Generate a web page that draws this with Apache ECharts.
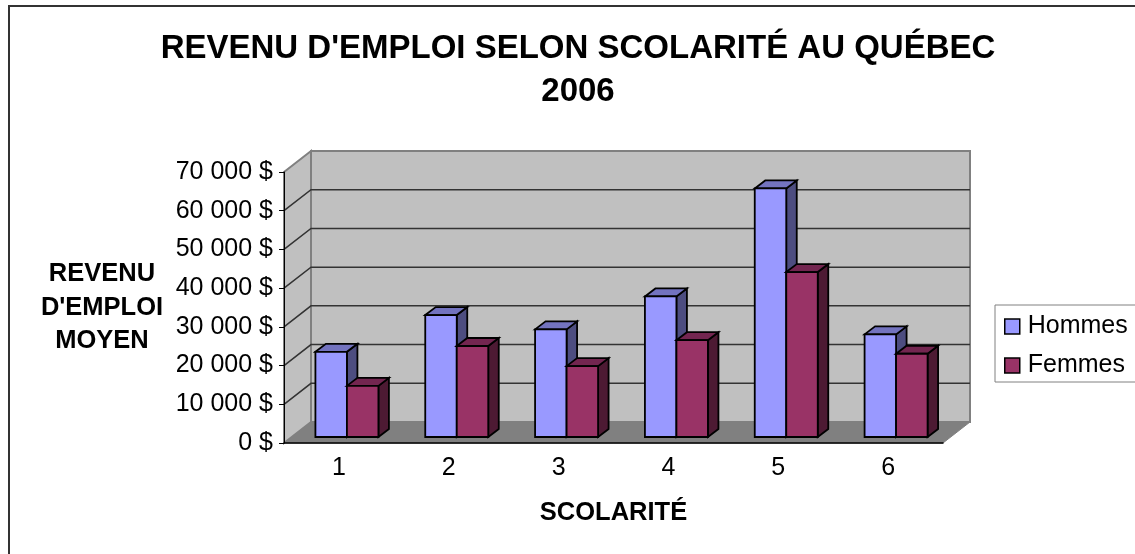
<!DOCTYPE html>
<html>
<head>
<meta charset="utf-8">
<script src="https://cdn.jsdelivr.net/npm/echarts@6/dist/echarts.min.js"></script>
<style>
  html, body {margin: 0; padding: 0; background: #fff;}
  #chart {width: 1135px; height: 554px;}
</style>
</head>
<body>
<div id="chart"></div>
<script>
const categories = ['1', '2', '3', '4', '5', '6']
const hommes = [22000, 31500, 27800, 36300, 64200, 26500]
const femmes = [13200, 23500, 18300, 25000, 42600, 21500]
const yTicks = [0, 10000, 20000, 30000, 40000, 50000, 60000, 70000]
const yTickLabels = ['0 $', '10 000 $', '20 000 $', '30 000 $', '40 000 $', '50 000 $', '60 000 $', '70 000 $']

const FONT = '"Liberation Sans", Arial, sans-serif'
// depth of the chart box and of the bars, in pixels
const DEPTH_X = 27
const DEPTH_Y = 21
const BAR_DEPTH_X = 10.5
const BAR_DEPTH_Y = 8
const BAR_OFFSET_X = 8
const BAR_OFFSET_Y = 6
const BAR_W = 31.5

const poly = (points, fill, stroke, lineWidth) => ({
  type: 'polygon',
  shape: {points},
  style: {fill, stroke, lineWidth},
})

// walls, floor and grid lines of the 3D box
function renderWalls(params, api) {
  const {x, y, width, height} = params.coordSys
  const r = x + width
  const b = y + height
  const children = [
    poly([[x, b], [x + DEPTH_X, b - DEPTH_Y], [r + DEPTH_X, b - DEPTH_Y], [r, b]], '#808080', '#808080', 1),
    poly([[x, y], [x + DEPTH_X, y - DEPTH_Y], [x + DEPTH_X, b - DEPTH_Y], [x, b]], '#c0c0c0', '#808080', 2),
    poly([[x + DEPTH_X, y - DEPTH_Y], [r + DEPTH_X, y - DEPTH_Y], [r + DEPTH_X, b - DEPTH_Y], [x + DEPTH_X, b - DEPTH_Y]], '#c0c0c0', '#808080', 2),
  ]
  yTicks.slice(1, -1).forEach(t => {
    const py = api.coord([0, t])[1]
    children.push({
      type: 'polyline',
      shape: {points: [[x, py], [x + DEPTH_X, py - DEPTH_Y], [r + DEPTH_X, py - DEPTH_Y]]},
      style: {fill: null, stroke: '#333', lineWidth: 1.5},
    })
  })
  return {type: 'group', children}
}

const makeBars = (shift, colors) => (params, api) => {
  const idx = api.value(0)
  const base = api.coord([idx, 0])
  const top = api.coord([idx, api.value(1)])
  const x0 = base[0] + BAR_OFFSET_X + shift
  const x1 = x0 + BAR_W
  const y0 = base[1] - BAR_OFFSET_Y
  const y1 = top[1] - BAR_OFFSET_Y
  const dx = BAR_DEPTH_X
  const dy = BAR_DEPTH_Y
  return {
    type: 'group',
    children: [
      poly([[x1, y0], [x1 + dx, y0 - dy], [x1 + dx, y1 - dy], [x1, y1]], colors.side, '#000', 1.8),
      poly([[x0, y1], [x0 + dx, y1 - dy], [x1 + dx, y1 - dy], [x1, y1]], colors.top, '#000', 1.8),
      poly([[x0, y0], [x0, y1], [x1, y1], [x1, y0]], colors.front, '#000', 1.8),
    ],
  }
}

const colorsH = {front: '#9999ff', top: '#7373bf', side: '#4d4d80'}
const colorsF = {front: '#993366', top: '#732650', side: '#4d1a33'}

const chart = echarts.init(document.getElementById('chart'))
chart.setOption({
  animation: false,
  title: {
    text: "REVENU D'EMPLOI SELON SCOLARITÉ AU QUÉBEC\n2006",
    left: 578,
    top: 27,
    padding: 0,
    textAlign: 'center',
    textStyle: {fontFamily: FONT, fontSize: 33, fontWeight: 'bold', color: '#000', lineHeight: 43.5},
  },
  legend: {
    left: 995,
    top: 305,
    orient: 'vertical',
    padding: [9, 24, 4, 9],
    itemGap: 14,
    itemWidth: 15,
    itemHeight: 15,
    borderColor: '#808080',
    borderWidth: 1,
    textStyle: {fontFamily: FONT, fontSize: 25, lineHeight: 25, color: '#000', padding: [0, 0, 0, 3]},
    data: [
      {name: 'Hommes', icon: 'rect', itemStyle: {color: colorsH.front, borderColor: '#000', borderWidth: 1.5}},
      {name: 'Femmes', icon: 'rect', itemStyle: {color: colorsF.front, borderColor: '#000', borderWidth: 1.5}},
    ],
  },
  grid: {left: 284, top: 172, width: 659, height: 271},
  xAxis: {
    type: 'category',
    data: categories,
    z: 10,
    name: 'SCOLARITÉ',
    nameLocation: 'middle',
    nameGap: 57,
    nameTextStyle: {fontFamily: FONT, fontSize: 25.5, fontWeight: 'bold', color: '#000'},
    axisLine: {lineStyle: {color: '#000', width: 1.5}},
    axisTick: {length: 5, lineStyle: {color: '#000'}},
    axisLabel: {fontFamily: FONT, fontSize: 25, color: '#000', margin: 13},
  },
  yAxis: {
    type: 'value',
    min: 0,
    max: 70000,
    interval: 10000,
    z: 10,
    name: "REVENU\nD'EMPLOI\nMOYEN",
    nameLocation: 'middle',
    nameRotate: 0,
    nameGap: 182,
    nameTextStyle: {fontFamily: FONT, fontSize: 25.5, fontWeight: 'bold', color: '#000', align: 'center', lineHeight: 33.5},
    axisLine: {show: true, lineStyle: {color: '#000', width: 1}},
    axisTick: {show: true, length: 5, lineStyle: {color: '#000'}},
    axisLabel: {fontFamily: FONT, fontSize: 25, color: '#000', margin: 11, formatter: v => yTickLabels[yTicks.indexOf(v)]},
    splitLine: {show: false},
  },
  series: [
    {type: 'custom', name: 'walls', silent: true, clip: false, z: 1, data: [[0, 0]], renderItem: renderWalls},
    {type: 'custom', name: 'Hommes', clip: false, z: 3, itemStyle: {color: colorsH.front},
      data: hommes.map((v, i) => [i, v]), encode: {x: 0, y: 1}, renderItem: makeBars(-BAR_W, colorsH)},
    {type: 'custom', name: 'Femmes', clip: false, z: 4, itemStyle: {color: colorsF.front},
      data: femmes.map((v, i) => [i, v]), encode: {x: 0, y: 1}, renderItem: makeBars(0, colorsF)},
  ],
  graphic: [{
    type: 'rect',
    silent: true,
    shape: {x: 9, y: 6, width: 1200, height: 700},
    style: {fill: null, stroke: '#333', lineWidth: 2},
  }],
})
</script>
</body>
</html>
